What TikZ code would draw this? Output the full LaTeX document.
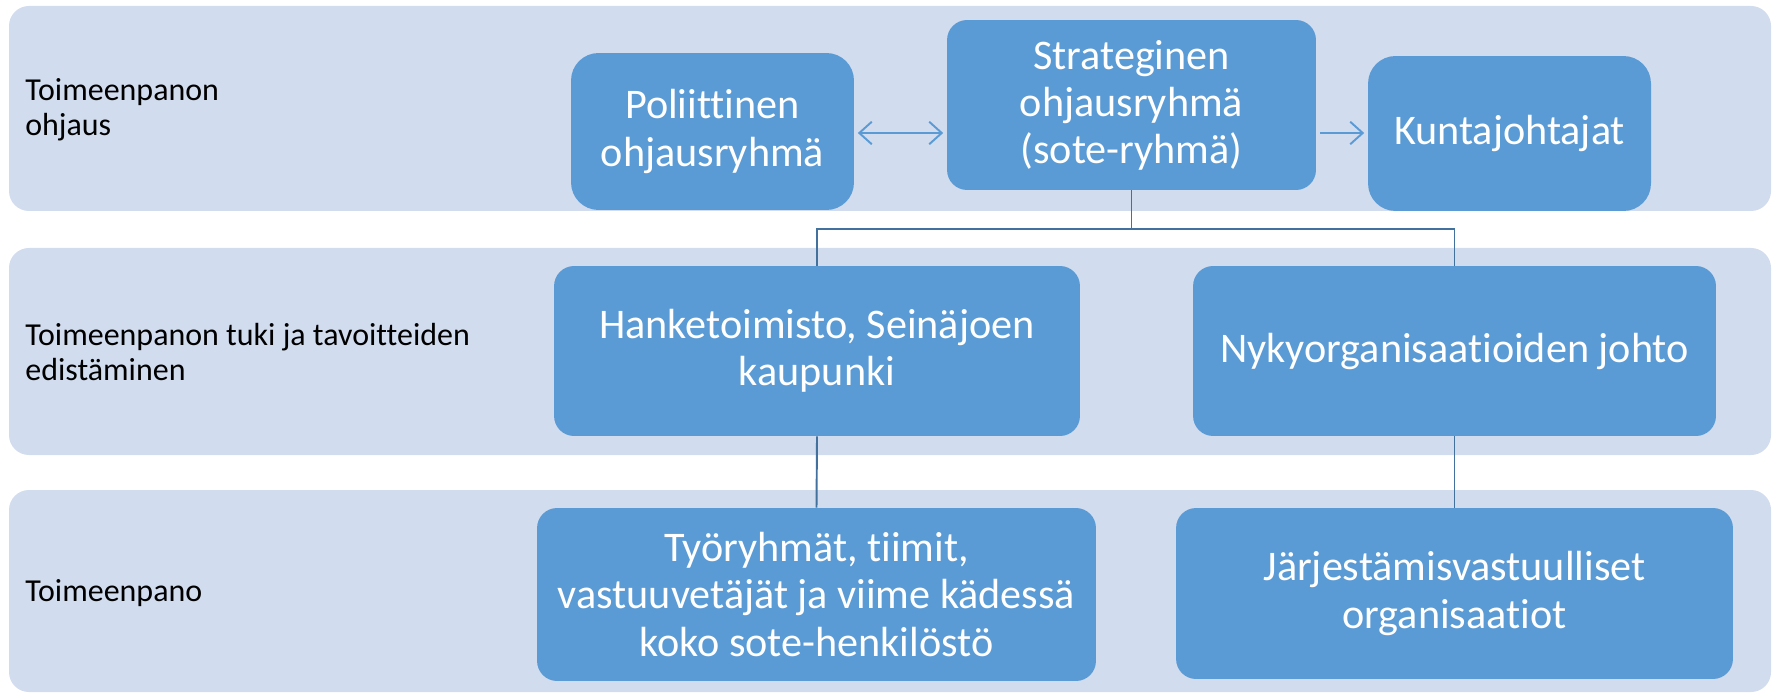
\documentclass[tikz,border=0pt]{standalone}
\usepackage{fontspec}
\setmainfont{Carlito}[Ligatures=NoCommon]
\usetikzlibrary{arrows.meta}
\definecolor{bandblue}{HTML}{D1DCEE}
\definecolor{boxblue}{HTML}{5B9BD5}
\definecolor{linkblue}{HTML}{41719C}
\tikzset{
  unit/.style={fill=boxblue, draw=none, rounded corners=0.4cm, text=white, align=center,
    font=\fontsize{24}{26.8}\selectfont, inner sep=0pt},
  level/.style={anchor=west, align=left, inner sep=0pt, font=\fontsize{18.2}{19.8}\selectfont},
  link/.style={draw=linkblue, line width=1.1pt},
  flow/.style={draw=boxblue, line width=1.1pt, shorten >=2pt, shorten <=2pt}
}
\begin{document}
\begin{tikzpicture}[x=0.02cm, y=-0.02cm]
\useasboundingbox (0,0) rectangle (1773,695);

\foreach \top/\bot in {6/211, 248/455, 490/692} {
\fill[bandblue, rounded corners=0.4cm] (9,\top) rectangle (1771,\bot);}

\node[level] (ohjaus) at (25,110) {Toimeenpanon\\ohjaus};
\node[level] (tuki) at (25,352) {Toimeenpanon tuki ja tavoitteiden\\edistäminen};
\node[level] (pano) at (25,593) {Toimeenpano};

\node[unit, rounded corners=0.55cm, minimum width=5.66cm, minimum height=3.14cm] (pol) at (712.5,131.5) {Poliittinen\\ohjausryhmä};
\node[unit, minimum width=7.38cm, minimum height=3.4cm] (strat) at (1131.5,105) {Strateginen\\ohjausryhmä\\(sote-ryhmä)};
\node[unit, rounded corners=0.55cm, minimum width=5.66cm, minimum height=3.1cm] (kunta) at (1509.5,133.5) {Kuntajohtajat};
\node[unit, minimum width=10.52cm, minimum height=3.4cm] (hanke) at (817,351) {Hanketoimisto, Seinäjoen\\kaupunki};
\node[unit, minimum width=10.46cm, minimum height=3.4cm] (nyky) at (1454.5,351) {Nykyorganisaatioiden johto};
\node[unit, minimum width=11.18cm, minimum height=3.46cm] (tyo) at (816.5,594.5) {Työryhmät, tiimit,\\vastuuvetäjät ja viime kädessä\\koko sote-henkilöstö};
\node[unit, minimum width=11.14cm, minimum height=3.42cm] (jarj) at (1454.5,593.5) {Järjestämisvastuulliset\\organisaatiot};

\coordinate (split) at (1131.5,229);

\draw[flow, {Straight Barb[length=2.5mm,width=4.5mm]}-{Straight Barb[length=2.5mm,width=4.5mm]}] (pol.east |- 0,133) -- (strat.west |- 0,133);
\draw[flow, -{Straight Barb[length=2.5mm,width=4.5mm]}] (strat.east |- 0,133) -- (kunta.west |- 0,133);

\draw[link] (strat.south) -- (split);
\draw[link] (hanke.north) |- (split) -| (nyky.north);
\draw[link] (hanke.south) -- (tyo.north);
\draw[link] (nyky.south) -- (jarj.north);

\end{tikzpicture}
\end{document}
